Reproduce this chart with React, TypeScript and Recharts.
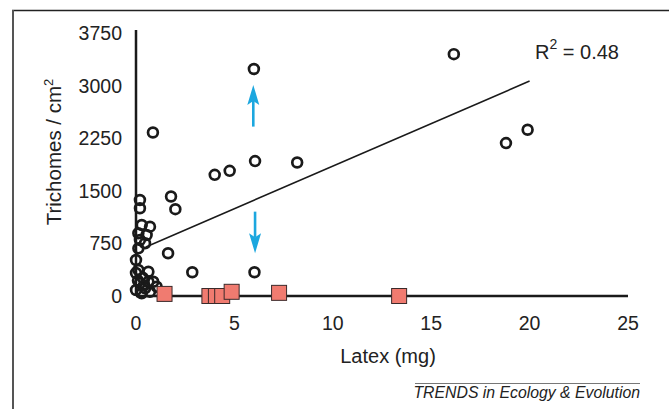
import { Label, ReferenceLine, Scatter, ScatterChart, XAxis, YAxis } from "recharts"

// Latex (mg) vs trichome density; circles = latex-producing plants, squares = no trichomes
const xTicks = [0, 5, 10, 15, 20, 25]
const yTicks = [0, 750, 1500, 2250, 3000, 3750]

const plantX = [
  16.15, 5.99, 0.86, 18.8, 19.9, 6.05, 8.19, 4.0, 4.76, 1.78, 2.0, 1.63, 2.86, 6.02,
  0.2, 0.2, 0.29, 0.71, 0.12, 0.2, 0.54, 0.46, 0.12, 0.0, 0.12, 0.0, 0.63, 0.2, 0.63,
  0.46, 0.88, 0.0, 0.29, 1.05, 0.71, 0.35, 0.1, 0.4,
]
const plantY = [
  3455, 3243, 2336, 2184, 2375, 1927, 1907, 1731, 1788, 1421, 1240, 611, 339, 339,
  1371, 1253, 1014, 990, 896, 800, 871, 753, 681, 514, 371, 329, 347, 181, 204,
  110, 204, 86, 39, 133, 61, 260, 220, 150,
]

const squareX = [1.45, 3.73, 4.06, 4.38, 4.86, 7.27, 13.37]
const squareY = [30, 0, 0, 0, 60, 45, 0]

// regression line end points and the two arrows (x, y in data units)
const trendX = [0.5, 20]
const trendY = [700, 3070]
const arrowUpX = [5.96, 5.96]
const arrowUpY = [2420, 3015]
const arrowDownX = [6.05, 6.05]
const arrowDownY = [1205, 610]

const FONT = '"Liberation Sans", Arial, Helvetica, sans-serif'
const INK = "#1a1a1a"
const CYAN = "#1ca7df"

const plants = plantX.map((x, i) => ({ x, y: plantY[i] }))
const noTrichomes = squareX.map((x, i) => ({ x, y: squareY[i] }))

const seg = (xs: number[], ys: number[]) => [
  { x: xs[0], y: ys[0] },
  { x: xs[1], y: ys[1] },
]

const OpenCircle = (p: any) => (
  <circle cx={p.cx} cy={p.cy} r={4.9} fill="none" stroke={INK} strokeWidth={2.7} />
)

const Square = (p: any) => (
  <rect
    x={p.cx - 7.5}
    y={p.cy - 7.5}
    width={15}
    height={15}
    fill="#f07b70"
    stroke="#3a2a2a"
    strokeWidth={1}
  />
)

const Arrow = (p: any) => {
  const { x1, y1, x2, y2 } = p
  const dx = x2 - x1
  const dy = y2 - y1
  const len = Math.hypot(dx, dy) || 1
  const ux = dx / len
  const uy = dy / len
  const head = 20
  const half = 6
  const bx = x2 - ux * head
  const by = y2 - uy * head
  const pts = [
    `${x2},${y2}`,
    `${bx - uy * half},${by + ux * half}`,
    `${bx + ux * 4},${by + uy * 4}`,
    `${bx + uy * half},${by - ux * half}`,
  ].join(" ")
  return (
    <g>
      <line x1={x1} y1={y1} x2={bx + ux * 4} y2={by + uy * 4} stroke={CYAN} strokeWidth={2.6} />
      <polygon points={pts} fill={CYAN} />
    </g>
  )
}

const tickStyle = { fontSize: 19.5, fill: "#222", fontFamily: FONT }

export default function App() {
  return (
    <div style={{ position: "absolute", left: 0, top: 0, width: 669, height: 409, background: "#fff", overflow: "hidden" }}>
      <ScatterChart
        width={669}
        height={409}
        margin={{ top: 30, right: 41, bottom: 83, left: 76 }}
        style={{ fontFamily: FONT }}
      >
        <XAxis
          type="number"
          dataKey="x"
          domain={[0, 25]}
          ticks={xTicks}
          interval={0}
          height={30}
          tickLine={false}
          tickSize={6}
          tickMargin={14}
          axisLine={{ stroke: INK, strokeWidth: 2.5 }}
          tick={tickStyle}
        >
          <Label
            content={() => (
              <text x={388} y={363} textAnchor="middle" fontSize={20} fill="#222" fontFamily={FONT}>
                Latex (mg)
              </text>
            )}
          />
        </XAxis>
        <YAxis
          type="number"
          dataKey="y"
          domain={[0, 3800]}
          ticks={yTicks}
          interval={0}
          width={60}
          tickLine={false}
          tickSize={6}
          tickMargin={8}
          axisLine={{ stroke: INK, strokeWidth: 2.5 }}
          tick={tickStyle}
        >
          <Label
            content={() => (
              <text
                transform="translate(61,152) rotate(-90)"
                textAnchor="middle"
                fontSize={20.5}
                fill="#222"
                fontFamily={FONT}
              >
                Trichomes / cm
                <tspan fontSize={13} dy={-8}>
                  2
                </tspan>
              </text>
            )}
          />
        </YAxis>
        <ReferenceLine
          segment={seg(trendX, trendY)}
          stroke={INK}
          strokeWidth={1.6}
          ifOverflow="visible"
        />
        <Scatter data={plants} shape={OpenCircle} isAnimationActive={false} />
        <Scatter data={noTrichomes} shape={Square} isAnimationActive={false} />
        <ReferenceLine segment={seg(arrowUpX, arrowUpY)} ifOverflow="visible" shape={Arrow} />
        <ReferenceLine segment={seg(arrowDownX, arrowDownY)} ifOverflow="visible" shape={Arrow} />
      </ScatterChart>
      <svg
        width={669}
        height={409}
        style={{ position: "absolute", left: 0, top: 0, pointerEvents: "none" }}
      >
        <line x1={12} y1={10.5} x2={669} y2={10.5} stroke="#222" strokeWidth={1.5} />
        <line x1={13} y1={10} x2={13} y2={409} stroke="#555" strokeWidth={2} />
        <text x={535} y={59} fontSize={20} fill="#222" fontFamily={FONT}>
          R
          <tspan fontSize={14} dy={-10}>
            2
          </tspan>
          <tspan dy={10}> = 0.48</tspan>
        </text>
        <line x1={415} y1={383.5} x2={640} y2={383.5} stroke="#777" strokeWidth={1} />
        <text
          x={640}
          y={398}
          textAnchor="end"
          fontSize={15.8}
          fontStyle="italic"
          fill="#222"
          fontFamily={FONT}
        >
          TRENDS in Ecology &amp; Evolution
        </text>
      </svg>
    </div>
  )
}
